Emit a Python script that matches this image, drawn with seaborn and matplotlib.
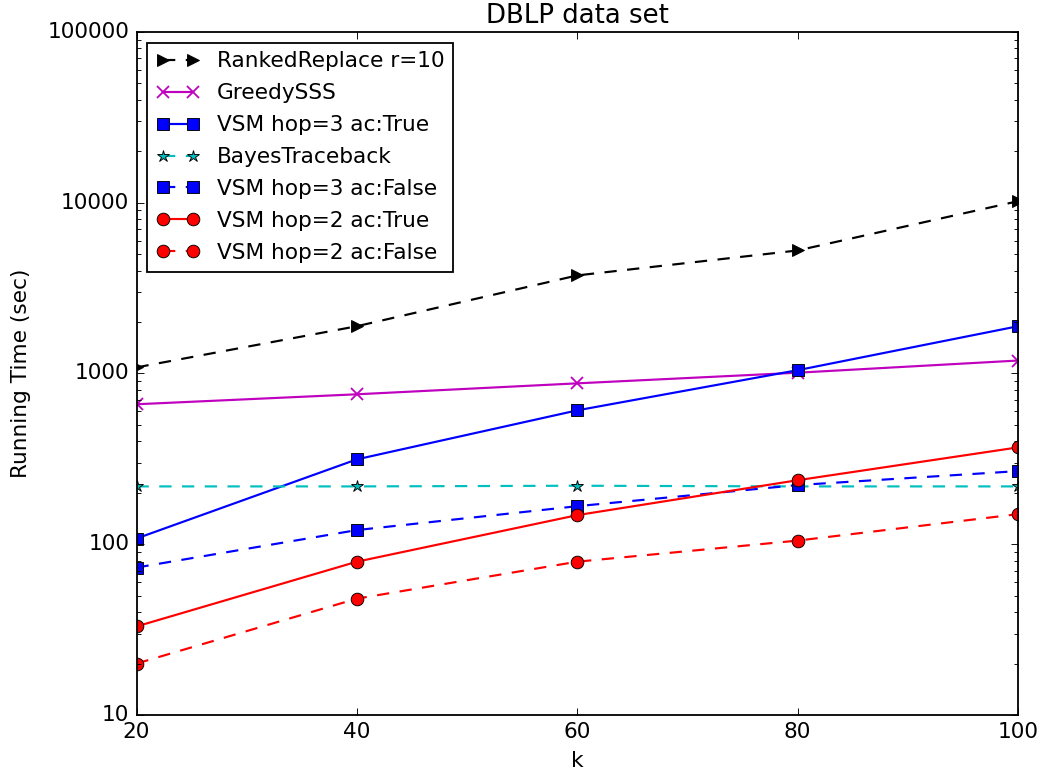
import numpy as np
import pandas as pd
import seaborn as sns
import matplotlib
matplotlib.use("Agg")
import matplotlib.pyplot as plt
from matplotlib.ticker import FuncFormatter

# data
k = [20, 40, 60, 80, 100]
ranked_replace = [1085, 1890, 3750, 5250, 10200]
greedy_sss = [660, 755, 875, 1010, 1190]
vsm3_true = [108, 314, 608, 1045, 1890]
bayes_traceback = [218, 218, 220, 218, 218]
vsm3_false = [73, 121, 167, 222, 268]
vsm2_true = [33, 79, 148, 237, 369]
vsm2_false = [20, 48, 79, 105, 150]

plt.style.use("classic")
plt.rcParams["figure.facecolor"] = "white"
plt.rcParams["savefig.facecolor"] = "white"
plt.rcParams["font.family"] = ["DejaVu Sans"]
plt.rcParams["lines.scale_dashes"] = False
plt.rcParams["lines.dashed_pattern"] = [6.8, 5.8]

series = [
    ("RankedReplace r=10", ranked_replace, "k", ">", "--"),
    ("GreedySSS", greedy_sss, "m", "x", "-"),
    ("VSM hop=3 ac:True", vsm3_true, "b", "s", "-"),
    ("BayesTraceback", bayes_traceback, "c", "*", "--"),
    ("VSM hop=3 ac:False", vsm3_false, "b", "s", "--"),
    ("VSM hop=2 ac:True", vsm2_true, "r", "o", "-"),
    ("VSM hop=2 ac:False", vsm2_false, "r", "o", "--"),
]

fig, ax = plt.subplots(figsize=(1042 / 130, 778 / 130), dpi=130)
fig.subplots_adjust(left=0.131, right=0.977, top=0.959, bottom=0.081)

for name, vals, col, mk, ls in series:
    df = pd.DataFrame({"k": k, "time": vals})
    edge = col if mk == "x" else "k"
    sns.lineplot(data=df, x="k", y="time", ax=ax, color=col, marker=mk,
                 linestyle=ls, markersize=7, markeredgecolor=edge,
                 markeredgewidth=0.5 if mk != "x" else 1.0,
                 linewidth=1.2, label=name, sort=False)

ax.set_yscale("log")
ax.set_ylim(10, 100000)
ax.set_xlim(20, 100)
ax.set_xticks([20, 40, 60, 80, 100])
ax.yaxis.set_major_formatter(FuncFormatter(lambda v, p: f"{int(round(v))}"))
ax.set_xlabel("k")
ax.set_ylabel("Running Time (sec)", labelpad=9)
ax.set_title("DBLP data set")
ax.legend(loc="upper left", numpoints=2, fontsize=12, fancybox=False,
          labelspacing=0.55)

fig.savefig("out.png", dpi=130)
